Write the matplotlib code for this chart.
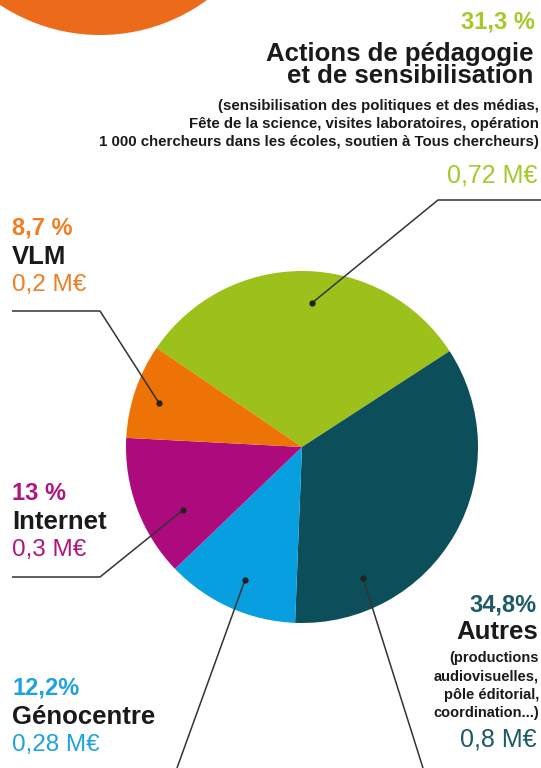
import matplotlib.pyplot as plt
from matplotlib.patches import Circle

plt.rcParams['font.family'] = ['Liberation Sans', 'DejaVu Sans']

# data
labels = ["Actions de pédagogie\net de sensibilisation", "Autres", "Génocentre", "Internet", "VLM"]
shares = [31.3, 34.8, 12.2, 13.0, 8.7]
amounts = ["0,72 M€", "0,8 M€", "0,28 M€", "0,3 M€", "0,2 M€"]
pct_text = ["31,3 %", "34,8%", "12,2%", "13 %", "8,7 %"]
wedge_colors = ["#9cc11b", "#0c4f5a", "#079fdf", "#ad0a7e", "#ee7306"]
text_colors = ["#a3c92a", "#1b5a66", "#1ea2e0", "#b0157f", "#ef7f22"]

W, H = 541, 768


def Y(y):
    return H - y


fig = plt.figure(figsize=(W / 100, H / 100), dpi=100)
ax = fig.add_axes([0, 0, 1, 1])

ax.pie(shares, colors=wedge_colors, startangle=145.7, counterclock=False,
       center=(302, Y(447)), radius=176, wedgeprops=dict(linewidth=0))

# decorative orange circle top-left
ax.add_patch(Circle((100, Y(-146)), 181, color="#ec6b1a", lw=0))

ax.set_xlim(0, W)
ax.set_ylim(0, H)
ax.set_aspect('equal')
ax.axis('off')

# leader lines (image coords)
leaders = [
    [(312, 303), (438, 200), (541, 200)],
    [(363, 578), (423, 768)],
    [(245, 580), (177, 768)],
    [(183, 510), (100, 577), (12, 577)],
    [(159, 403), (100, 311), (12, 311)],
]
for pts in leaders:
    xs = [p[0] for p in pts]
    ys = [Y(p[1]) for p in pts]
    ax.plot(xs, ys, color="#333333", lw=1.1, solid_capstyle='butt')
    ax.plot(xs[0], ys[0], 'o', color="#222222", ms=3.5)

# top block (Actions)
ax.text(535, Y(22), pct_text[0], color=text_colors[0], fontsize=17, fontweight='bold', ha='right', va='center')
title_lines = labels[0].split("\n")
ax.text(533, Y(61), title_lines[0], color="#1a1a1a", fontsize=18.5, fontweight='bold', ha='right', va='baseline')
ax.text(533, Y(83), title_lines[1], color="#1a1a1a", fontsize=18.5, fontweight='bold', ha='right', va='baseline')
small_top = ["(sensibilisation des politiques et des médias,",
             "Fête de la science, visites laboratoires, opération",
             "1 000 chercheurs dans les écoles, soutien à Tous chercheurs)"]
for i, s in enumerate(small_top):
    ax.text(539, Y(106 + i * 18), s, color="#1a1a1a", fontsize=10.8, fontweight='bold', ha='right', va='center')
ax.text(537, Y(176), amounts[0], color=text_colors[0], fontsize=18, ha='right', va='center')

# Autres block
ax.text(537, Y(605), pct_text[1], color=text_colors[1], fontsize=17, fontweight='bold', ha='right', va='center')
ax.text(538, Y(632), labels[1], color="#1a1a1a", fontsize=18.5, fontweight='bold', ha='right', va='center')
small_autres = ["(productions", "audiovisuelles,", "pôle éditorial,", "coordination...)"]
for i, s in enumerate(small_autres):
    ax.text(539, Y(658 + i * 18.5), s, color="#1a1a1a", fontsize=10.5, fontweight='bold', ha='right', va='center')
ax.text(537, Y(739), amounts[1], color=text_colors[1], fontsize=18, ha='right', va='center')

# left blocks: VLM, Internet, Génocentre
left_blocks = [(4, 228), (3, 493), (2, 688)]
for idx, y0 in left_blocks:
    ax.text(12, Y(y0), pct_text[idx], color=text_colors[idx], fontsize=17, fontweight='bold', ha='left', va='center')
    ax.text(12, Y(y0 + 29), labels[idx], color="#1a1a1a", fontsize=18.5, fontweight='bold', ha='left', va='center')
    ax.text(12, Y(y0 + 57), amounts[idx], color=text_colors[idx], fontsize=17.5, ha='left', va='center')

fig.savefig("out.png", dpi=100)
